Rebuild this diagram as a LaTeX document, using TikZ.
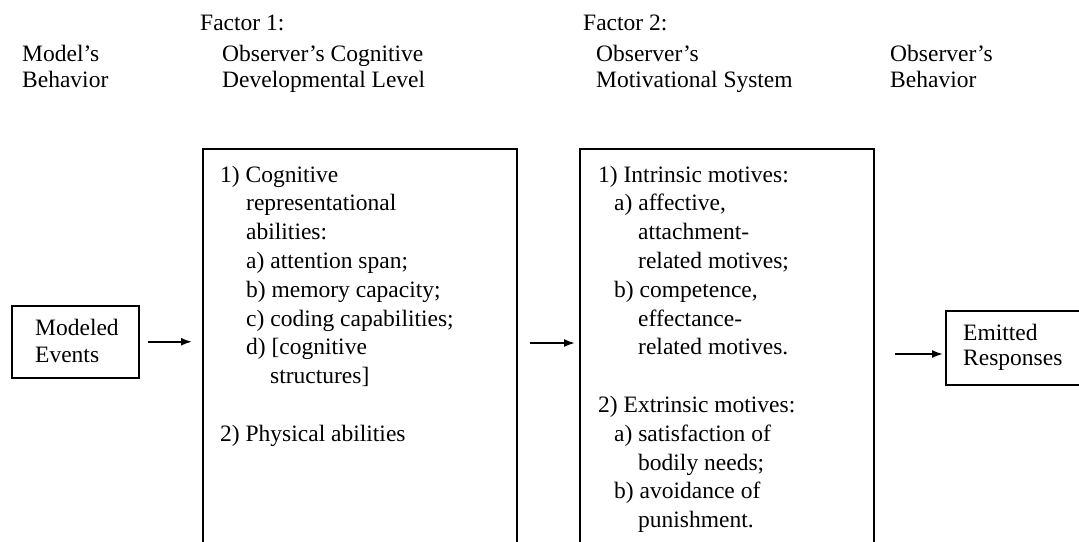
\documentclass[tikz,border=0pt]{standalone}
\usepackage{fontspec}
\setmainfont{Liberation Serif}
\usetikzlibrary{arrows.meta,calc}
\begin{document}
\begin{tikzpicture}[x=1pt,y=-1pt,
  txt/.style={anchor=base west, inner sep=0pt, font=\fontsize{23.5}{28}\selectfont},
  frame/.style={draw, line width=1.5pt, inner sep=0pt, anchor=north west},
  arr/.style={-{Latex[length=11pt,width=8pt]}, line width=1.8pt}]
\useasboundingbox (0,0) rectangle (1079,541);
\clip (0,0) rectangle (1079,541);

% column headings
\node[txt] (hmA) at (22,61) {Model’s};
\node[txt] (hmB) at (22,87) {Behavior};
\node[txt] (hfA) at (200,30) {Factor 1:};
\node[txt] (hfB) at (222,61) {Observer’s Cognitive};
\node[txt] (hfC) at (222,87) {Developmental Level};
\node[txt] (hgA) at (583,30) {Factor 2:};
\node[txt] (hgB) at (596,61) {Observer’s};
\node[txt] (hgC) at (596,87) {Motivational System};
\node[txt] (hoA) at (890,61) {Observer’s};
\node[txt] (hoB) at (890,87) {Behavior};

% boxes (the two factor boxes run past the lower edge)
\node[frame, minimum width=127pt, minimum height=72pt] (modeled) at (11,305) {};
\node[frame, minimum width=314pt, minimum height=430pt] (box1) at (202,148) {};
\node[frame, minimum width=294pt, minimum height=430pt] (box2) at (579,148) {};
\node[frame, minimum width=160pt, minimum height=74pt] (emitted) at (945,310) {};

% box texts
\node[txt] (mdA) at (35,335) {Modeled};
\node[txt] (mdB) at (35,362) {Events};
\node[txt] (emA) at (963,340) {Emitted};
\node[txt] (emB) at (963,365) {Responses};

\node[txt] (cA) at (220,182)   {1) Cognitive};
\node[txt] (cB) at (246,210.8) {representational};
\node[txt] (cC) at (246,239.6) {abilities:};
\node[txt] (cD) at (246,268.4) {a) attention span;};
\node[txt] (cE) at (246,297.2) {b) memory capacity;};
\node[txt] (cF) at (246,326)   {c) coding capabilities;};
\node[txt] (cG) at (246,354.8) {d) [cognitive};
\node[txt] (cH) at (270,383.6) {structures]};
\node[txt] (cI) at (220,441.2) {2) Physical abilities};

\node[txt] (mA) at (598,182)   {1) Intrinsic motives:};
\node[txt] (mB) at (614,210.8) {a) affective,};
\node[txt] (mC) at (638,239.6) {attachment-};
\node[txt] (mD) at (638,268.4) {related motives;};
\node[txt] (mE) at (614,297.2) {b) competence,};
\node[txt] (mF) at (638,326)   {effectance-};
\node[txt] (mG) at (638,354.8) {related motives.};
\node[txt] (mH) at (598,412.4) {2) Extrinsic motives:};
\node[txt] (mI) at (614,441.2) {a) satisfaction of};
\node[txt] (mJ) at (638,470)   {bodily needs;};
\node[txt] (mK) at (614,498.8) {b) avoidance of};
\node[txt] (mL) at (638,527.6) {punishment.};

% connectors
\coordinate (rowB) at (0,343);
\coordinate (rowC) at (0,354);
\draw[arr] ($(modeled.east)+(8,0)$) -- ($(box1.west |- modeled.east)+(-10,0)$);
\draw[arr] ($(box1.east |- rowB)+(12,0)$) -- ($(box2.west |- rowB)+(-4,0)$);
\draw[arr] ($(box2.east |- rowC)+(20,0)$) -- ($(emitted.west |- rowC)+(-2,0)$);
\end{tikzpicture}
\end{document}
